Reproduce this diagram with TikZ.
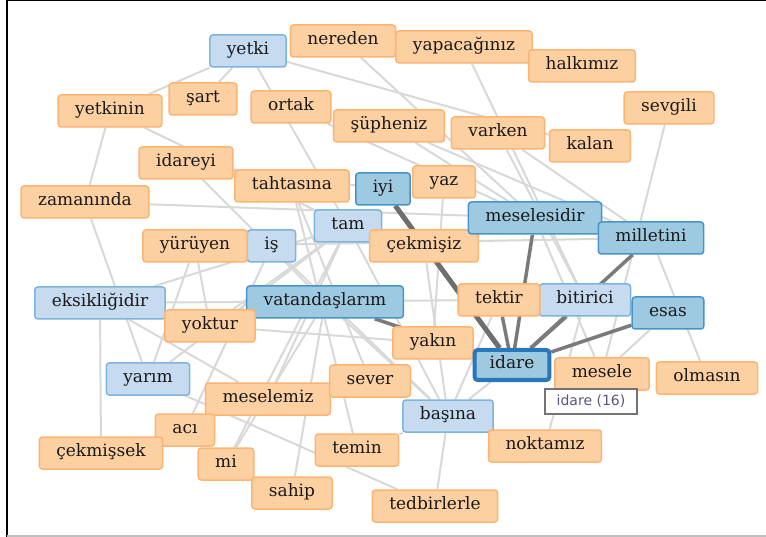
\documentclass[tikz,border=0pt]{standalone}
\usepackage{fontspec}
\setmainfont{DejaVu Serif}
\newfontfamily\tipfont{DejaVu Sans}
\usetikzlibrary{backgrounds}
\definecolor{orfill}{RGB}{253,208,162}
\definecolor{ordraw}{RGB}{253,180,115}
\definecolor{lbfill}{RGB}{198,219,239}
\definecolor{lbdraw}{RGB}{125,180,222}
\definecolor{mbfill}{RGB}{158,202,225}
\definecolor{mbdraw}{RGB}{70,148,200}
\definecolor{hidraw}{RGB}{40,120,185}
\definecolor{lightedge}{RGB}{216,216,216}
\definecolor{darkedge}{RGB}{122,122,122}
\definecolor{tiptext}{RGB}{90,85,130}
\begin{document}
\begin{tikzpicture}[x=1pt,y=-1pt,
  word/.style={rectangle, rounded corners=3pt, line width=1.5pt, inner xsep=17pt,
    minimum height=32pt, text=black!90, font=\fontsize{17}{20}\selectfont,
    text height=11pt, text depth=4pt},
  peach/.style={word, fill=orfill, draw=ordraw},
  pale/.style={word, fill=lbfill, draw=lbdraw},
  deep/.style={word, fill=mbfill, draw=mbdraw},
  focus/.style={deep, draw=hidraw, line width=4pt, minimum height=30pt, inner xsep=15pt},
  link/.style={draw=lightedge, line width=2pt},
  strong/.style={draw=darkedge, line width=3.5pt},
  tip/.style={draw=black!55, fill=white, line width=1.2pt, minimum width=92pt,
    minimum height=25pt, inner sep=0pt, text=tiptext,
    font=\tipfont\fontsize{14}{16}\selectfont}]
\useasboundingbox (0,0) rectangle (766,537);
\draw[black, line width=1.5pt] (7,537) -- (7,0.75) -- (766,0.75);
\draw[black!25, line width=1.5pt] (7,536) -- (766,536);

\node[peach] (nereden) at (343,41) {nereden};
\node[pale] (yetki) at (248,51) {yetki};
\node[peach] (yapacaginiz) at (464,47) {yapacağınız};
\node[peach] (halkimiz) at (582,66) {halkımız};
\node[peach] (sevgili) at (669,108) {sevgili};
\node[peach] (yetkinin) at (110,111) {yetkinin};
\node[peach] (sart) at (203,99) {şart};
\node[peach] (ortak) at (291,107) {ortak};
\node[peach] (supheniz) at (389,126) {şüpheniz};
\node[peach] (varken) at (498,133) {varken};
\node[peach] (kalan) at (590,146) {kalan};
\node[peach] (idareyi) at (186,163) {idareyi};
\node[peach] (tahtasina) at (292,186) {tahtasına};
\node[deep] (iyi) at (383,189) {iyi};
\node[peach] (yaz) at (444,182) {yaz};
\node[peach] (zamaninda) at (85,202) {zamanında};
\node[pale] (tam) at (348,226) {tam};
\node[peach] (cekmisiz) at (424,246) {çekmişiz};
\node[pale] (is) at (271.5,246) {iş};
\node[peach] (yuruyen) at (195,246) {yürüyen};
\node[deep] (meselesidir) at (535,218) {meselesidir};
\node[deep] (milletini) at (651,238) {milletini};
\node[pale] (eksikligidir) at (100,303) {eksikliğidir};
\node[deep] (vatandaslarim) at (325,302) {vatandaşlarım};
\node[peach] (yoktur) at (210,326) {yoktur};
\node[pale] (bitirici) at (585,300) {bitirici};
\node[peach] (tektir) at (499,300) {tektir};
\node[deep] (esas) at (668,313) {esas};
\node[peach] (yakin) at (433,343) {yakın};
\node[peach] (mesele) at (602,374) {mesele};
\node[focus] (idare) at (512,365) {idare};
\node[peach] (olmasin) at (707,378) {olmasın};
\node[pale] (yarim) at (148,379) {yarım};
\node[peach] (meselemiz) at (268,399) {meselemiz};
\node[peach] (sever) at (370,381) {sever};
\node[pale] (basina) at (448,416) {başına};
\node[peach] (noktamiz) at (545,446) {noktamız};
\node[peach] (aci) at (185,430) {acı};
\node[peach] (cekmissek) at (101,453) {çekmişsek};
\node[peach] (temin) at (357,450) {temin};
\node[peach] (mi) at (226,464) {mi};
\node[peach] (sahip) at (292,493) {sahip};
\node[peach] (tedbirlerle) at (435,506) {tedbirlerle};
\node[tip] (tooltip) at (591,401.5) {idare (16)};

\begin{scope}[on background layer]
\foreach \a/\b in {yetki/yetkinin, yetki/sart, yetki/tam, yetki/kalan,
  nereden/meselesidir, yapacaginiz/bitirici, sevgili/mesele, milletini/olmasin,
  yetkinin/zamaninda, yetkinin/tam, zamaninda/meselesidir, zamaninda/yarim,
  cekmissek/eksikligidir, is/basina, yuruyen/yarim, yuruyen/yoktur,
  eksikligidir/tektir, yarim/tedbirlerle, yarim/tam, ortak/meselesidir,
  idareyi/iyi, idareyi/vatandaslarim, tahtasina/sever, cekmisiz/basina,
  yaz/yakin, supheniz/meselesidir, varken/bitirici, varken/milletini,
  yuruyen/milletini, meselesidir/mesele, noktamiz/bitirici, esas/mesele,
  basina/vatandaslarim, basina/tam, basina/idare, basina/tektir,
  basina/temin, meselemiz/tam, sahip/vatandaslarim, aci/is,
  mi/vatandaslarim, temin/tahtasina, tedbirlerle/basina, yoktur/yakin,
  eksikligidir/meselemiz, supheniz/milletini, tam/eksikligidir, tam/yoktur,
  tam/mi}
  \draw[link] (\a) -- (\b);
\draw[strong, line width=5pt, darkedge!90!black] (idare) -- (iyi);
\foreach \b in {meselesidir, milletini, bitirici, esas, tektir, vatandaslarim}
  \draw[strong] (idare) -- (\b);
\end{scope}
\end{tikzpicture}
\end{document}
